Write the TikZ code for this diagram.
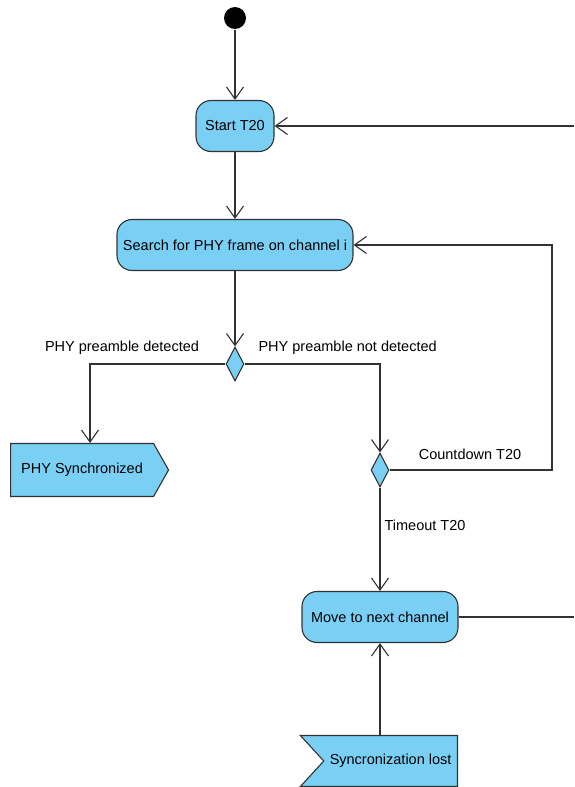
\documentclass[tikz,border=0pt]{standalone}
\usepackage{fontspec}
\setmainfont{Liberation Sans}
\usetikzlibrary{arrows.meta,shapes.geometric,shapes.symbols}
\definecolor{actblue}{RGB}{122,207,245}
\definecolor{linegray}{RGB}{50,50,50}
\begin{document}
\begin{tikzpicture}[x=1pt, y=-1pt, line width=1.1pt, font=\fontsize{14.5}{17}\selectfont,
  action/.style={rectangle, rounded corners=15pt, draw=linegray, fill=actblue, minimum height=51pt, inner xsep=4pt},
  decision/.style={diamond, draw=linegray, fill=actblue, minimum width=18pt, minimum height=34pt, inner sep=0pt},
  sendsig/.style={signal, signal to=east, signal pointer angle=121, draw=linegray, fill=actblue, minimum height=53pt, inner xsep=8pt},
  acceptsig/.style={signal, signal from=west, signal to=nowhere, signal pointer angle=95, draw=linegray, fill=actblue, minimum height=51pt, inner xsep=6pt},
  flow/.style={draw=linegray, -{Straight Barb[length=12pt,width=17pt,line width=1.1pt]}},
  line/.style={draw=linegray},
  guard/.style={inner sep=0pt}]
\useasboundingbox (0,0) rectangle (574,787);
% nodes
\node[circle, fill=black, minimum size=22pt, inner sep=0pt] (init) at (235,18) {};
\node[action, minimum width=78pt] (t20) at (235,126) {Start T20};
\node[action, minimum width=236pt] (search) at (235,245) {Search for PHY frame on channel i};
\node[decision] (dec1) at (235,364) {};
\node[sendsig, anchor=west, minimum width=158pt] (sync) at (10,470) {PHY Synchronized\hspace{18pt}};
\node[decision] (dec2) at (380,470) {};
\node[action, minimum width=156pt] (move) at (380,617) {Move to next channel};
\node[acceptsig, anchor=east, minimum width=140pt] (lost) at (458,761) {Syncronization lost};
% guards
\node[guard] (lbldet) at (122,348) {PHY preamble detected};
\node[guard, anchor=west] (lblnot) at (258,348) {PHY preamble not detected};
\node[guard] (lblcount) at (470,454) {Countdown T20};
\node[guard] (lbltime) at (425,525) {Timeout T20};
% free ends
\coordinate (back) at (574,126);
\coordinate (next) at (574,617);
\coordinate (loop) at (552,470);
% connectors
\draw[flow] (init) -- (t20);
\draw[flow] (t20) -- (search);
\draw[flow] (search) -- (dec1);
\draw[flow] (dec1.west) -| ([xshift=80pt]sync.north west);
\draw[flow] (dec1.east) -| (dec2.north);
\draw[flow] (dec2.east) -- (loop) |- (search.east);
\draw[flow] (dec2.south) -- (move.north);
\draw[line] (move.east) -- (next);
\draw[flow] (back) -- (t20.east);
\draw[flow] ([xshift=-78pt]lost.north east) -- (move.south);
\end{tikzpicture}
\end{document}
